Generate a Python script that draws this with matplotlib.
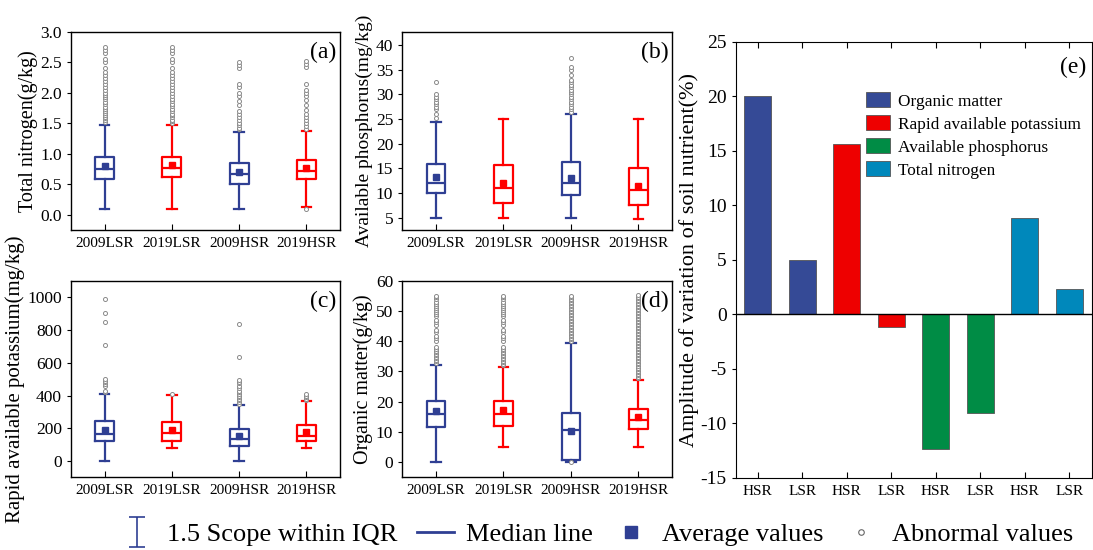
import matplotlib
matplotlib.use('Agg')
import matplotlib.pyplot as plt
from matplotlib.lines import Line2D
from matplotlib.patches import Patch
from matplotlib.path import Path

plt.rcParams['font.family'] = ['Liberation Serif', 'DejaVu Serif']
plt.rcParams['mathtext.fontset'] = 'stix'

BLUE = '#2F3F93'
RED = '#FF0000'

groups = ['2009LSR', '2019LSR', '2009HSR', '2019HSR']
box_colors = [BLUE, RED, BLUE, RED]

# (a) Total nitrogen (g/kg): whislo, q1, med, q3, whishi, mean
tn_stats = [(0.10, 0.58, 0.75, 0.95, 1.48, 0.80),
            (0.10, 0.62, 0.77, 0.95, 1.47, 0.82),
            (0.10, 0.50, 0.66, 0.84, 1.36, 0.70),
            (0.12, 0.58, 0.72, 0.90, 1.38, 0.77)]
tn_out = [[1.52, 1.55, 1.58, 1.61, 1.64, 1.67, 1.70, 1.73, 1.77, 1.81, 1.85, 1.90, 1.93, 1.97,
           2.00, 2.05, 2.10, 2.15, 2.20, 2.25, 2.30, 2.35, 2.40, 2.50, 2.55, 2.65, 2.70, 2.75],
          [1.50, 1.53, 1.56, 1.60, 1.63, 1.66, 1.70, 1.74, 1.78, 1.82, 1.86, 1.90, 1.95, 2.00,
           2.05, 2.10, 2.15, 2.20, 2.25, 2.30, 2.35, 2.40, 2.50, 2.55, 2.65, 2.70, 2.75],
          [1.40, 1.43, 1.47, 1.50, 1.55, 1.60, 1.65, 1.70, 1.80, 1.87, 1.95, 2.00, 2.10, 2.15,
           2.40, 2.45, 2.50],
          [0.10, 1.40, 1.45, 1.50, 1.55, 1.60, 1.65, 1.72, 1.80, 1.88, 1.95, 2.00, 2.05, 2.15,
           2.42, 2.47, 2.52]]

# (b) Available phosphorus (mg/kg)
ap_stats = [(5.0, 10.0, 12.0, 15.8, 24.5, 13.2),
            (5.0, 8.0, 11.0, 15.6, 25.0, 12.0),
            (5.0, 9.6, 12.1, 16.2, 26.0, 13.1),
            (4.8, 7.6, 10.5, 15.1, 25.0, 11.5)]
ap_out = [[25.3, 26.0, 27.0, 27.5, 28.0, 28.5, 29.0, 29.5, 30.0, 32.5],
          [],
          [26.5, 27.0, 27.5, 28.0, 28.5, 29.0, 29.5, 30.0, 30.5, 31.0, 31.5, 32.0, 32.5,
           33.0, 34.0, 35.0, 35.5, 37.3],
          []]

# (c) Rapid available potassium (mg/kg)
rak_stats = [(0, 125, 165, 245, 410, 190),
             (80, 125, 170, 238, 405, 190),
             (0, 95, 135, 195, 345, 155),
             (80, 122, 155, 220, 365, 180)]
rak_out = [[420, 430, 460, 470, 480, 490, 500, 705, 850, 905, 985],
           [410],
           [350, 360, 370, 380, 390, 400, 410, 420, 430, 445, 460, 475, 485, 495, 635, 835],
           [370, 380, 390, 400, 410]]

# (d) Organic matter (g/kg)
om_stats = [(0.0, 11.7, 16.0, 20.2, 32.2, 16.7),
            (5.0, 12.0, 16.0, 20.2, 31.5, 17.3),
            (0.0, 0.5, 10.7, 16.3, 39.5, 10.2),
            (5.0, 11.0, 14.0, 17.6, 27.3, 15.0)]
om_out = [[32.8, 33.3, 33.8, 34.3, 34.8, 35.3, 35.8, 36.3, 36.8, 37.5, 38.2, 40.2, 41.0, 41.8,
           43.0, 43.7, 45.5, 46.3, 47.0, 48.3, 49.0, 49.7, 50.4, 51.1, 51.8, 52.5, 53.2, 53.9,
           54.6, 55.2],
          [32.0, 32.5, 33.0, 33.5, 34.0, 34.5, 35.0, 35.5, 36.0, 36.5, 37.0, 37.6, 38.2, 40.2,
           41.0, 41.8, 43.0, 43.7, 45.5, 46.3, 47.0, 48.3, 49.0, 49.7, 50.4, 51.1, 51.8, 52.5,
           53.2, 53.9, 54.6, 55.2],
          [-0.2, 40.2, 40.7, 41.2, 41.7, 42.2, 42.7, 43.2, 43.7, 44.2, 44.7, 45.2, 45.7, 46.2,
           46.7, 47.2, 47.7, 48.2, 48.7, 49.2, 49.7, 50.2, 50.7, 51.2, 51.7, 52.2, 52.7, 53.2,
           53.7, 54.2, 54.7, 55.2],
          [27.8, 28.3, 28.8, 29.3, 29.8, 30.3, 30.8, 31.3, 31.8, 32.3, 32.8, 33.3, 33.8, 34.3,
           34.8, 35.3, 35.8, 36.3, 36.8, 37.3, 37.8, 38.3, 38.8, 39.3, 39.8, 40.3, 40.8, 41.3,
           41.8, 42.3, 42.8, 43.3, 43.8, 44.3, 44.8, 45.3, 45.8, 46.3, 46.8, 47.3, 47.8, 48.3,
           48.8, 49.3, 49.8, 50.3, 50.8, 51.3, 51.8, 52.3, 52.8, 53.3, 53.8, 54.3, 54.8, 55.3]]

# (e) Amplitude of variation (%)
var_labels = ['HSR', 'LSR', 'HSR', 'LSR', 'HSR', 'LSR', 'HSR', 'LSR']
var_values = [20.0, 5.0, 15.6, -1.2, -12.3, -9.0, 8.8, 2.3]
nutrients = ['Organic matter', 'Rapid available potassium', 'Available phosphorus', 'Total nitrogen']
nutrient_colors = ['#354A96', '#EE0000', '#008C45', '#0088BB']
var_colors = [nutrient_colors[i // 2] for i in range(len(var_values))]


def draw_box(ax, stats, outliers, ylabel, ylim, yticks, tag, ylabel_size=14.5):
    bxp_stats = []
    for s, fl in zip(stats, outliers):
        bxp_stats.append({'whislo': s[0], 'q1': s[1], 'med': s[2], 'q3': s[3],
                          'whishi': s[4], 'mean': s[5], 'fliers': fl})
    pos = list(range(1, len(stats) + 1))
    for i, (d, c) in enumerate(zip(bxp_stats, box_colors)):
        ax.bxp([d], positions=[pos[i]], widths=0.28, capwidths=0.14, showmeans=True,
               boxprops=dict(color=c, linewidth=1.6),
               whiskerprops=dict(color=c, linewidth=1.6),
               capprops=dict(color=c, linewidth=1.6),
               medianprops=dict(color=c, linewidth=1.6),
               meanprops=dict(marker='s', markerfacecolor=c, markeredgecolor=c, markersize=5),
               flierprops=dict(marker='o', markerfacecolor='white', markeredgecolor='#8a8a8a',
                               markersize=2.9, markeredgewidth=0.7))
    ax.set_xlim(0.5, 4.5)
    ax.set_ylim(*ylim)
    ax.set_yticks(yticks)
    ax.set_xticks(pos)
    ax.set_xticklabels(groups, fontsize=11)
    ax.tick_params(axis='y', labelsize=12.5, direction='out', length=3)
    ax.tick_params(axis='x', direction='in', length=4, pad=5)
    ax.set_ylabel(ylabel, fontsize=ylabel_size, labelpad=2)
    ax.text(0.985, 0.95, tag, transform=ax.transAxes, ha='right', va='top', fontsize=17)
    for sp in ax.spines.values():
        sp.set_linewidth(1.0)


fig = plt.figure(figsize=(10.93, 5.5), dpi=100)

ax_a = fig.add_axes([0.065, 0.582, 0.246, 0.360])
draw_box(ax_a, tn_stats, tn_out, 'Total nitrogen(g/kg)', (-0.25, 3.0),
         [0.0, 0.5, 1.0, 1.5, 2.0, 2.5, 3.0], '(a)')
ax_a.yaxis.set_major_formatter(matplotlib.ticker.FormatStrFormatter('%.1f'))

ax_b = fig.add_axes([0.368, 0.582, 0.247, 0.360])
draw_box(ax_b, ap_stats, ap_out, 'Available phosphorus(mg/kg)', (2.5, 42.7),
         [5, 10, 15, 20, 25, 30, 35, 40], '(b)', ylabel_size=14)

ax_c = fig.add_axes([0.065, 0.133, 0.246, 0.356])
draw_box(ax_c, rak_stats, rak_out, 'Rapid available potassium(mg/kg)', (-95, 1097),
         [0, 200, 400, 600, 800, 1000], '(c)', ylabel_size=15)

ax_d = fig.add_axes([0.368, 0.133, 0.247, 0.356])
draw_box(ax_d, om_stats, om_out, 'Organic matter(g/kg)', (-5, 60),
         [0, 10, 20, 30, 40, 50, 60], '(d)')

# (e) bar chart
ax_e = fig.add_axes([0.673, 0.131, 0.3257, 0.793])
x = list(range(len(var_values)))
ax_e.bar(x, var_values, width=0.61, color=var_colors, edgecolor='#555555', linewidth=0.6)
ax_e.axhline(0, color='black', linewidth=1.0)
ax_e.set_xlim(-0.5, len(var_values) - 0.5)
ax_e.set_ylim(-15, 25)
ax_e.set_yticks([-15, -10, -5, 0, 5, 10, 15, 20, 25])
ax_e.set_yticklabels(['-15', '-10', '-5', '0', '5', '10', '15', '20', '25'])
ax_e.set_xticks(x)
ax_e.set_xticklabels(var_labels, fontsize=11)
ax_e.tick_params(axis='x', direction='in', length=4, top=True, pad=5)
ax_e.tick_params(axis='y', direction='out', length=3, labelsize=14)
ax_e.set_ylabel('Amplitude of variation of soil nutrient(%)', fontsize=16, labelpad=1)
ax_e.text(0.985, 0.965, '(e)', transform=ax_e.transAxes, ha='right', va='top', fontsize=17)
handles_e = [Patch(facecolor=c, edgecolor='#555555', linewidth=0.6) for c in nutrient_colors]
ax_e.legend(handles_e, nutrients, loc='upper left', bbox_to_anchor=(0.365, 0.884), frameon=False,
            fontsize=12.4, handlelength=1.45, handleheight=0.95, handletextpad=0.45,
            labelspacing=0.33, borderaxespad=0, borderpad=0)

# bottom legend
cap_path = Path([(-0.5, 1), (0.5, 1), (0, 1), (0, -1), (-0.5, -1), (0.5, -1)],
                [Path.MOVETO, Path.LINETO, Path.MOVETO, Path.LINETO, Path.MOVETO, Path.LINETO])
leg_handles = [
    Line2D([], [], linestyle='none', marker=cap_path, markersize=22, markeredgecolor=BLUE,
           markerfacecolor='none', markeredgewidth=1.2),
    Line2D([], [], color=BLUE, linewidth=2),
    Line2D([], [], linestyle='none', marker='s', color=BLUE, markersize=9),
    Line2D([], [], linestyle='none', marker='o', markerfacecolor='white',
           markeredgecolor='#666666', markersize=4, markeredgewidth=0.8),
]
leg_labels = ['1.5 Scope within IQR', 'Median line', 'Average values', 'Abnormal values']
fig.legend(leg_handles, leg_labels, loc='center', bbox_to_anchor=(0.545, 0.028), ncol=4,
           frameon=False, fontsize=19, handlelength=1.4, columnspacing=0.75, handletextpad=0.45,
           borderpad=0)

fig.savefig('out.png', dpi=100)
